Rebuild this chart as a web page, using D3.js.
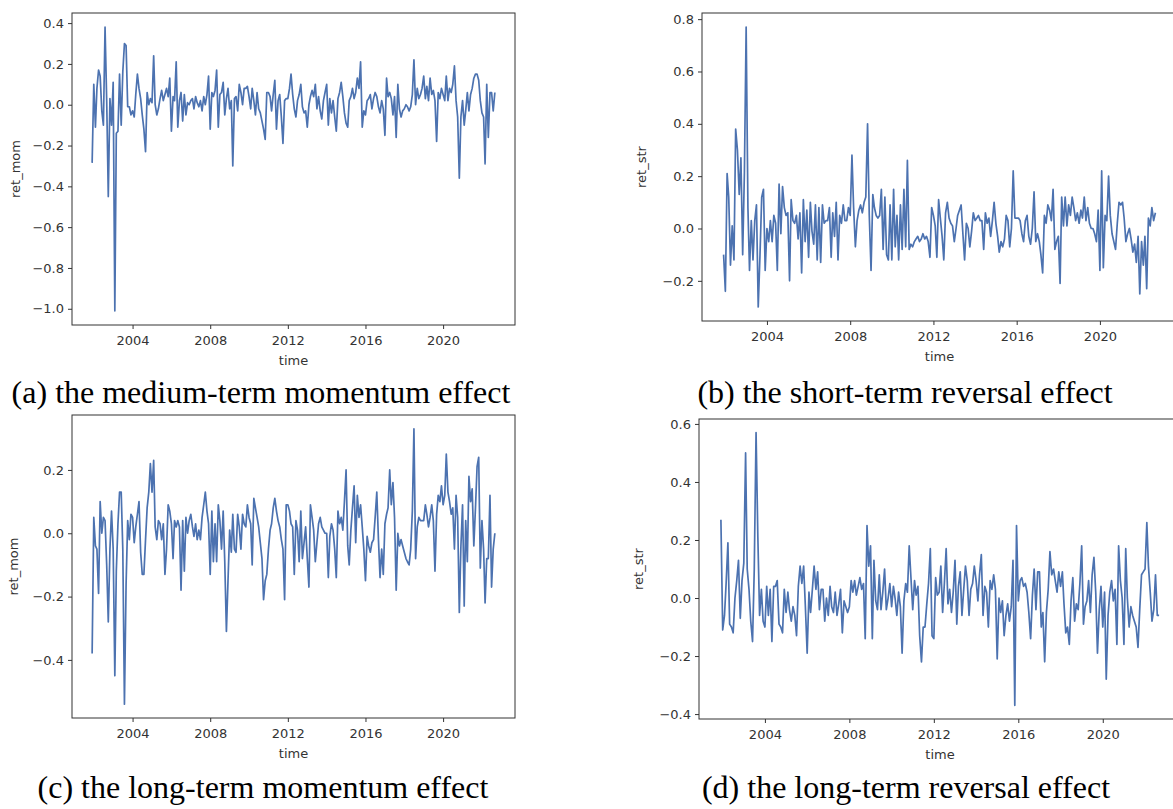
<!DOCTYPE html>
<html>
<head>
<meta charset="utf-8">
<script src="https://cdn.jsdelivr.net/npm/d3@7"></script>
<style>
html,body{margin:0;padding:0;background:#fff;overflow:hidden}
</style>
</head>
<body>
<svg id="chart" width="1173" height="809"></svg>
<script>
// ---- data (monthly, first value = Dec 2001) ----
const firstMonth = [2001, 11]; // year, 0-based month
const retMomMedium = [
 -0.285,
 0.10,-0.11,0.08,0.17,0.14,-0.03,-0.10,0.38,0.02,-0.45,0.03,-0.10,
 0.11,-1.01,-0.14,-0.13,0.15,-0.10,0.16,0.30,0.29,-0.01,-0.01,-0.05,
 -0.03,-0.06,0.05,0.15,0.08,0.03,-0.05,-0.12,-0.23,0.06,0.00,0.03,
 0.01,0.24,0.00,-0.05,-0.02,0.03,0.07,0.02,0.05,0.08,0.04,0.13,
 -0.13,0.04,0.02,0.21,-0.11,0.02,0.06,-0.08,0.05,-0.05,0.01,0.00,
 0.02,0.03,-0.02,0.04,0.01,-0.01,0.02,-0.03,0.04,0.00,0.05,0.14,
 -0.12,0.06,0.04,0.07,0.17,-0.11,0.05,0.06,0.11,-0.05,0.03,0.08,
 -0.02,0.02,-0.30,0.03,0.04,-0.03,0.10,0.06,0.00,0.08,0.08,0.09,
 0.04,-0.02,0.08,0.02,-0.05,0.06,-0.02,-0.04,-0.08,-0.12,-0.17,0.06,
 0.06,0.04,-0.03,0.05,0.12,-0.12,0.02,0.05,-0.06,-0.19,0.02,0.03,
 0.03,0.08,0.15,0.05,-0.02,-0.06,0.02,0.05,0.10,-0.01,-0.04,-0.03,
 -0.11,0.00,0.04,0.07,0.04,0.10,-0.02,0.04,-0.03,-0.07,0.02,0.06,
 0.10,-0.10,0.03,-0.04,0.02,-0.06,-0.13,0.03,0.06,0.11,0.04,-0.04,
 -0.09,-0.11,0.02,0.04,0.08,0.03,0.06,0.13,0.08,0.21,-0.11,-0.03,
 -0.05,0.02,0.03,0.05,-0.02,0.03,0.06,0.04,-0.01,-0.04,0.02,-0.02,
 -0.15,0.13,0.04,0.06,0.03,-0.05,0.04,-0.16,0.10,-0.02,-0.06,-0.03,
 -0.02,0.00,-0.01,-0.03,-0.01,0.05,0.22,0.00,0.08,0.03,0.05,0.08,
 0.14,0.03,0.09,0.02,0.13,0.05,0.07,0.02,-0.18,0.06,0.03,0.08,
 0.05,0.02,0.14,0.02,0.08,0.06,0.10,0.19,0.02,-0.06,-0.36,-0.06,
 0.02,-0.10,-0.03,0.06,-0.03,0.05,0.08,0.13,0.15,0.15,0.12,0.02,
 -0.04,-0.06,-0.29,0.10,-0.16,0.06,0.06,-0.03,0.06
];
const retStrShort = [
 -0.10,
 -0.24,0.21,0.12,-0.14,0.01,-0.12,0.38,0.30,0.13,0.27,-0.10,0.21,
 0.77,0.08,-0.16,0.03,-0.12,0.03,0.09,-0.30,-0.10,0.12,0.15,-0.16,
 0.00,-0.05,0.03,-0.05,0.05,0.02,-0.16,0.17,-0.02,0.16,0.08,0.05,
 0.06,-0.20,0.11,0.03,0.02,0.05,-0.04,0.06,-0.17,0.11,-0.05,0.07,
 -0.11,0.10,-0.01,-0.06,0.09,-0.12,0.08,-0.13,0.09,0.02,0.03,0.03,
 0.08,-0.11,0.06,-0.03,0.10,-0.12,0.05,0.02,0.09,0.03,0.03,0.08,
 0.05,0.28,0.08,-0.07,0.03,0.07,0.09,0.06,0.10,0.12,0.40,0.05,
 -0.16,0.13,0.08,0.05,0.04,0.05,0.15,-0.08,0.12,-0.10,-0.12,0.09,
 -0.12,0.15,-0.07,0.05,-0.12,0.09,-0.08,0.15,-0.07,0.26,-0.08,-0.06,
 -0.07,-0.05,-0.04,-0.03,-0.05,-0.04,-0.02,-0.04,-0.03,-0.05,-0.11,0.08,
 0.05,0.01,-0.11,0.11,0.04,-0.03,-0.12,0.06,0.10,0.04,0.02,0.01,
 -0.05,0.00,0.05,0.07,0.09,-0.02,-0.12,0.02,0.00,-0.07,-0.01,0.06,
 0.03,0.04,0.05,0.03,0.03,-0.08,0.06,0.02,0.04,-0.03,0.03,0.10,
 0.02,-0.03,-0.09,-0.05,-0.07,-0.04,0.05,0.03,-0.07,0.00,0.22,0.04,
 0.04,0.04,0.03,-0.02,-0.05,0.03,0.05,-0.03,-0.06,0.00,0.14,-0.05,
 -0.02,-0.05,-0.10,-0.17,0.05,0.02,0.09,0.07,0.03,0.15,-0.08,-0.05,
 -0.03,-0.21,0.12,0.01,0.12,0.01,0.09,0.05,0.12,0.08,0.03,0.06,
 0.02,0.07,0.04,0.12,0.03,0.08,0.02,0.00,0.00,-0.02,-0.05,0.07,
 -0.16,0.22,-0.15,0.05,0.03,0.20,0.05,-0.02,-0.05,-0.08,0.02,0.10,
 0.09,0.10,0.04,-0.05,-0.02,0.00,-0.04,-0.09,-0.06,-0.13,-0.03,-0.25,
 -0.05,-0.14,-0.03,-0.23,0.04,0.01,0.08,0.03,0.06
];
const retMomLong = [
 -0.38,
 0.05,-0.04,-0.05,-0.19,0.10,0.00,0.05,0.04,-0.10,-0.28,-0.05,0.07,
 -0.05,-0.45,-0.12,0.03,0.13,0.13,-0.05,-0.54,-0.16,0.04,-0.02,0.06,
 0.05,-0.03,0.02,0.06,0.10,-0.06,-0.13,-0.13,-0.02,0.08,0.13,0.22,
 0.13,0.23,0.02,-0.02,0.04,0.03,-0.02,0.03,-0.13,-0.05,0.09,0.07,
 0.03,-0.08,0.04,0.02,0.04,0.02,-0.18,0.04,-0.12,0.05,0.00,0.04,
 0.06,0.02,-0.01,0.03,-0.02,0.01,-0.02,0.05,0.09,0.13,0.07,0.03,
 -0.13,0.07,-0.09,0.03,-0.09,0.09,0.04,-0.05,0.07,-0.09,-0.31,-0.15,
 0.01,-0.06,0.06,-0.05,-0.06,0.06,0.02,-0.05,0.06,0.03,0.02,0.09,
 0.05,0.03,-0.10,0.11,0.08,0.05,0.02,-0.03,-0.08,-0.21,-0.15,-0.13,
 -0.05,0.01,0.03,0.08,0.11,0.07,0.04,0.02,-0.02,-0.05,-0.21,0.09,
 0.09,0.07,0.03,0.02,-0.13,0.04,0.01,-0.09,0.07,-0.08,-0.03,0.02,
 -0.08,-0.17,0.09,0.05,0.01,-0.09,-0.03,0.03,0.05,0.02,0.01,0.00,
 0.00,-0.14,-0.01,0.03,0.01,-0.05,-0.14,0.07,0.03,0.05,0.01,0.10,
 0.20,-0.04,-0.10,0.01,0.08,0.15,-0.03,0.12,0.05,0.09,0.02,-0.05,
 -0.15,-0.01,-0.04,-0.06,-0.03,-0.02,0.05,0.13,-0.02,-0.14,-0.05,-0.13,
 0.03,0.06,0.08,0.20,0.09,0.16,0.05,-0.18,0.00,-0.04,-0.02,-0.04,
 -0.06,-0.08,-0.09,-0.10,-0.05,0.07,0.33,-0.08,0.02,0.05,0.04,0.04,
 0.04,0.09,0.06,0.02,0.05,0.09,0.04,-0.12,0.06,0.12,0.10,0.15,
 0.09,0.12,0.25,0.13,0.10,0.06,0.08,-0.05,0.12,0.05,-0.25,-0.04,
 0.09,-0.23,0.04,-0.09,0.18,0.10,0.14,-0.04,0.08,0.21,0.24,-0.11,
 0.04,-0.05,-0.22,-0.08,-0.08,0.12,-0.17,-0.05,0.00
];
const retStrLong = [
 0.27,
 -0.11,-0.06,0.05,0.19,-0.09,-0.10,-0.12,0.00,0.06,0.13,-0.07,0.06,
 0.12,0.50,0.10,0.03,-0.08,-0.15,0.10,0.57,0.21,-0.06,0.03,-0.08,
 -0.10,0.04,-0.06,0.03,-0.15,0.04,0.04,0.06,-0.09,-0.10,-0.12,0.03,
 -0.05,0.02,-0.04,-0.08,-0.03,-0.06,-0.13,0.04,0.11,0.05,0.11,-0.03,
 -0.19,0.02,-0.05,0.03,0.11,0.03,0.09,-0.04,0.03,0.03,-0.08,0.00,
 -0.06,0.04,-0.03,-0.05,0.02,-0.06,-0.02,0.03,-0.12,-0.01,-0.03,-0.05,
 -0.03,0.06,0.02,0.06,0.01,0.04,0.07,0.03,0.05,-0.14,0.25,0.11,
 0.18,-0.14,0.13,-0.01,-0.04,0.08,-0.04,0.02,0.10,-0.04,0.00,0.05,
 -0.03,0.04,0.00,-0.06,0.02,-0.03,-0.19,-0.01,0.05,0.02,0.18,0.07,
 -0.04,0.06,0.01,0.04,-0.13,-0.22,-0.10,-0.10,-0.02,0.05,0.17,-0.13,
 -0.14,0.07,0.01,0.02,0.11,-0.05,0.05,0.17,-0.02,0.03,-0.05,0.02,
 0.13,-0.09,0.04,0.09,-0.06,0.03,0.11,0.06,-0.06,0.03,0.05,0.11,
 0.06,-0.01,0.08,0.15,-0.06,0.04,0.02,-0.10,0.06,0.03,0.08,0.03,
 -0.21,0.00,-0.05,-0.01,-0.13,-0.06,-0.02,-0.08,-0.03,0.13,-0.37,0.25,
 -0.01,0.06,0.07,0.04,0.05,0.02,-0.05,-0.14,0.01,0.10,-0.04,0.09,
 0.09,-0.10,-0.05,-0.22,-0.05,0.03,0.16,0.08,0.10,0.06,0.02,0.09,
 0.04,0.09,-0.02,-0.12,-0.10,-0.16,-0.01,0.07,-0.08,-0.02,-0.04,0.05,
 0.18,-0.09,-0.03,-0.01,0.06,-0.05,0.08,0.14,0.02,-0.19,-0.04,0.04,
 -0.10,0.02,-0.28,-0.06,0.02,0.06,-0.01,0.03,-0.16,0.18,0.06,0.00,
 -0.16,0.17,0.00,-0.10,-0.03,-0.06,-0.08,-0.10,-0.17,-0.04,0.08,0.09,
 0.10,0.26,0.11,0.02,-0.08,-0.04,0.08,-0.06,-0.06
];

const yearTicks = [2004, 2008, 2012, 2016, 2020];
const ticksA = [-1.0, -0.8, -0.6, -0.4, -0.2, 0.0, 0.2, 0.4];
const ticksB = [-0.2, 0.0, 0.2, 0.4, 0.6, 0.8];
const ticksC = [-0.4, -0.2, 0.0, 0.2];
const ticksD = [-0.4, -0.2, 0.0, 0.2, 0.4, 0.6];
const yLabels = ["ret_mom", "ret_str", "ret_mom", "ret_str"];
const xLabel = "time";
const captions = [
  "(a) the medium-term momentum effect",
  "(b) the short-term reversal effect",
  "(c) the long-term momentum effect",
  "(d) the long-term reversal effect"
];

// ---- layout ----
const panels = [
  {values: retMomMedium, ticks: ticksA, label: yLabels[0], caption: captions[0],
   box: {x0: 72, x1: 515, y0: 13, y1: 325}, ylabX: 20, capX: 261, capY: 403},
  {values: retStrShort, ticks: ticksB, label: yLabels[1], caption: captions[1],
   box: {x0: 702, x1: 1177, y0: 13, y1: 321}, ylabX: 646, capX: 905, capY: 403},
  {values: retMomLong, ticks: ticksC, label: yLabels[2], caption: captions[2],
   box: {x0: 72, x1: 515, y0: 415, y1: 718}, ylabX: 18, capX: 263, capY: 798},
  {values: retStrLong, ticks: ticksD, label: yLabels[3], caption: captions[3],
   box: {x0: 699, x1: 1181, y0: 419, y1: 719}, ylabX: 643, capX: 906, capY: 798}
];

const svg = d3.select("#chart");
const lineColor = "#4c72b0";
const inkColor = "#333";
const tickFont = "DejaVu Sans, sans-serif";

panels.forEach(p => {
  const data = p.values.map((v, i) => ({
    date: d3.timeMonth.offset(new Date(firstMonth[0], firstMonth[1], 1), i),
    v: v
  }));
  const b = p.box;
  const [t0, t1] = d3.extent(data, d => +d.date);
  const tp = (t1 - t0) * 0.05;
  const x = d3.scaleTime().domain([new Date(t0 - tp), new Date(t1 + tp)]).range([b.x0, b.x1]);
  const [v0, v1] = d3.extent(data, d => d.v);
  const vp = (v1 - v0) * 0.05;
  const y = d3.scaleLinear().domain([v0 - vp, v1 + vp]).range([b.y1, b.y0]);

  const g = svg.append("g");

  g.append("path")
    .datum(data)
    .attr("fill", "none")
    .attr("stroke", lineColor)
    .attr("stroke-width", 1.7)
    .attr("stroke-linejoin", "round")
    .attr("d", d3.line().x(d => x(d.date)).y(d => y(d.v)));

  g.append("rect")
    .attr("x", b.x0).attr("y", b.y0)
    .attr("width", b.x1 - b.x0).attr("height", b.y1 - b.y0)
    .attr("fill", "none").attr("stroke", inkColor).attr("stroke-width", 1);

  const xa = g.append("g")
    .attr("transform", `translate(0,${b.y1})`)
    .call(d3.axisBottom(x)
      .tickValues(yearTicks.map(yr => new Date(yr, 0, 1)))
      .tickFormat(d3.timeFormat("%Y"))
      .tickSize(4).tickSizeOuter(0).tickPadding(7));
  const ya = g.append("g")
    .attr("transform", `translate(${b.x0},0)`)
    .call(d3.axisLeft(y)
      .tickValues(p.ticks)
      .tickFormat(d3.format(".1f"))
      .tickSize(4).tickSizeOuter(0).tickPadding(4));

  [xa, ya].forEach(a => {
    a.select(".domain").remove();
    a.selectAll("line").attr("stroke", inkColor);
    a.selectAll("text")
      .attr("fill", inkColor)
      .style("font-family", tickFont)
      .style("font-size", "13px");
  });

  g.append("text")
    .attr("x", (b.x0 + b.x1) / 2).attr("y", b.y1 + 40)
    .attr("text-anchor", "middle")
    .attr("fill", inkColor)
    .style("font-family", tickFont).style("font-size", "13px")
    .text(xLabel);
  g.append("text")
    .attr("transform", `translate(${p.ylabX},${(b.y0 + b.y1) / 2}) rotate(-90)`)
    .attr("text-anchor", "middle")
    .attr("fill", inkColor)
    .style("font-family", tickFont).style("font-size", "13px")
    .text(p.label);

  svg.append("text")
    .attr("x", p.capX).attr("y", p.capY)
    .attr("text-anchor", "middle")
    .attr("fill", "#000")
    .style("font-family", "'Times New Roman', 'Liberation Serif', serif")
    .style("font-size", "32px")
    .text(p.caption);
});
</script>
</body>
</html>
